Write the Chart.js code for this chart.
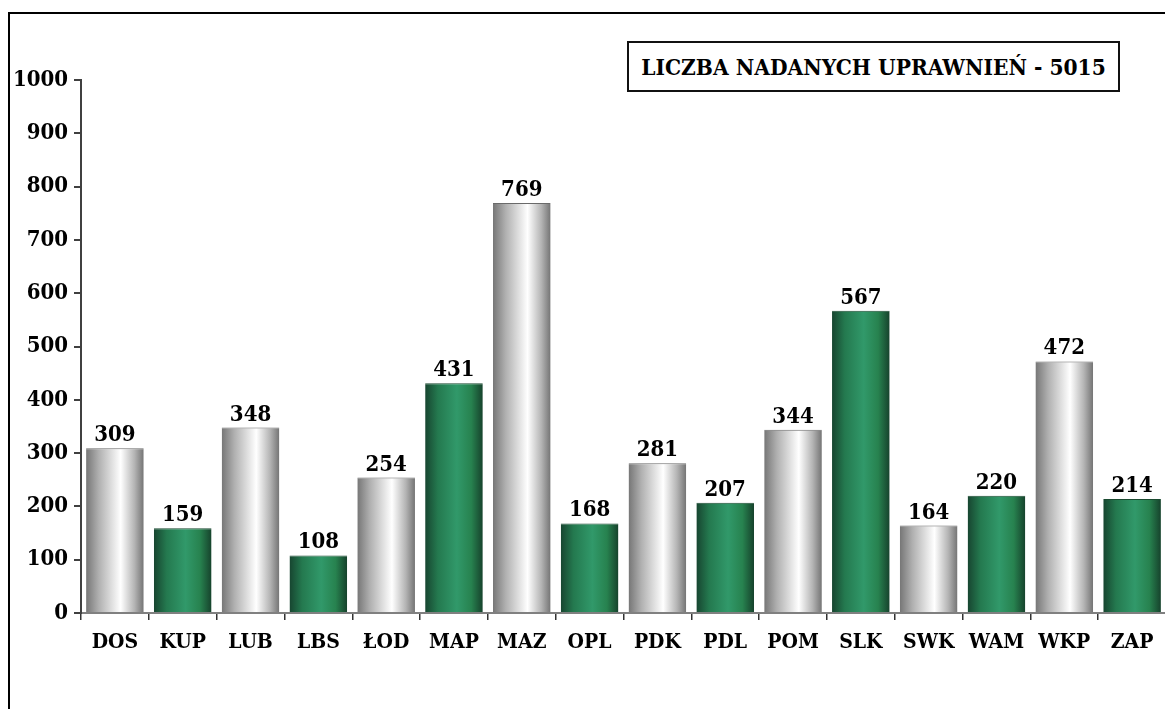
<!DOCTYPE html>
<html>

<head>
    <title>Liczba nadanych uprawnień</title>
    <script src="https://cdn.jsdelivr.net/npm/chart.js"></script>
    <style>
        html,
        body {
            margin: 0;
            padding: 0;
            background: #fff;
            overflow: hidden;
        }

        #frame {
            position: absolute;
            left: 8px;
            top: 12px;
            width: 1200px;
            height: 760px;
            border: 2px solid #000;
        }

        #wrap {
            position: absolute;
            left: 0;
            top: 0;
            width: 1166px;
            height: 709px;
        }

        #titleBox {
            position: absolute;
            left: 627px;
            top: 41px;
            width: 489px;
            height: 47px;
            border: 2px solid #111;
            background: #fff;
            font-family: 'DejaVu Serif Condensed', 'DejaVu Serif', serif;
            font-weight: bold;
            font-size: 22.5px;
            line-height: 48px;
            text-align: center;
            color: #000;
        }
    </style>
</head>

<body>
    <div id="frame"></div>
    <div id="wrap">
        <canvas id="myChart" width="1166" height="709"></canvas>
    </div>
    <div id="titleBox">LICZBA NADANYCH UPRAWNIEŃ - 5015</div>

    <script>
        // data
        const categories = ['DOS', 'KUP', 'LUB', 'LBS', 'ŁOD', 'MAP', 'MAZ', 'OPL', 'PDK', 'PDL', 'POM', 'SLK', 'SWK', 'WAM', 'WKP', 'ZAP'];
        const values = [309, 159, 348, 108, 254, 431, 769, 168, 281, 207, 344, 567, 164, 220, 472, 214];
        const yTicks = [0, 100, 200, 300, 400, 500, 600, 700, 800, 900, 1000];

        const barPct = 0.85;
        const font = "'DejaVu Serif Condensed', 'DejaVu Serif', serif";

        // cylinder-like horizontal gradient for each bar
        function barFill(c) {
            const chart = c.chart;
            const green = c.dataIndex % 2 === 1;
            const xs = chart.scales.x;
            if (!chart.chartArea || !xs) return green ? '#2a8a5c' : '#d0d0d0';
            const cx = xs.getPixelForValue(c.dataIndex);
            const w = xs.width / categories.length * barPct;
            const g = chart.ctx.createLinearGradient(cx - w / 2, 0, cx + w / 2, 0);
            if (green) {
                g.addColorStop(0, '#174530');
                g.addColorStop(0.22, '#24794f');
                g.addColorStop(0.55, '#31996a');
                g.addColorStop(0.8, '#27824f');
                g.addColorStop(1, '#16422c');
            } else {
                g.addColorStop(0, '#767676');
                g.addColorStop(0.22, '#b0b0b0');
                g.addColorStop(0.6, '#ffffff');
                g.addColorStop(0.84, '#b4b4b4');
                g.addColorStop(1, '#747474');
            }
            return g;
        }

        const valueLabels = {
            id: 'valueLabels',
            afterDatasetsDraw(chart) {
                const ctx = chart.ctx;
                const meta = chart.getDatasetMeta(0);
                ctx.save();
                ctx.font = "bold 22px " + font;
                ctx.fillStyle = '#000';
                ctx.textAlign = 'center';
                ctx.textBaseline = 'alphabetic';
                meta.data.forEach((bar, i) => {
                    ctx.fillText(values[i], bar.x, bar.y - 7);
                });
                ctx.restore();
            }
        };

        const ctx = document.getElementById('myChart').getContext('2d');

        const myChart = new Chart(ctx, {
            type: 'bar',
            data: {
                labels: categories,
                datasets: [{
                    data: values,
                    backgroundColor: barFill,
                    borderColor: (c) => c.dataIndex % 2 === 1 ? '#1a4a30' : '#6a6a6a',
                    borderWidth: { top: 1, left: 0, right: 0, bottom: 0 },
                    borderSkipped: 'start',
                    categoryPercentage: 1,
                    barPercentage: barPct
                }]
            },
            plugins: [valueLabels],
            options: {
                responsive: false,
                animation: false,
                layout: {
                    padding: { top: 80, left: 0, right: 0, bottom: 0 }
                },
                plugins: {
                    legend: { display: false },
                    tooltip: { enabled: false }
                },
                scales: {
                    x: {
                        offset: true,
                        afterFit(scale) { scale.height = 709 - 613; },
                        border: { display: true, color: '#808080', width: 2 },
                        grid: {
                            offset: true,
                            drawOnChartArea: false,
                            drawTicks: true,
                            tickLength: 7,
                            color: '#333',
                            lineWidth: 1.5
                        },
                        ticks: {
                            color: '#000',
                            padding: 10,
                            maxRotation: 0,
                            autoSkip: false,
                            font: { family: font, weight: 'bold', size: 21 }
                        }
                    },
                    y: {
                        min: 0,
                        max: 1000,
                        afterFit(scale) { scale.width = 81; },
                        afterBuildTicks(scale) { scale.ticks = yTicks.map(v => ({ value: v })); },
                        border: { display: true, color: '#404040', width: 2 },
                        grid: {
                            drawOnChartArea: false,
                            drawTicks: true,
                            tickLength: 7,
                            color: '#404040',
                            lineWidth: 2
                        },
                        ticks: {
                            color: '#000',
                            padding: 6,
                            callback: (v) => String(v),
                            font: { family: font, weight: 'bold', size: 22 }
                        }
                    }
                }
            }
        });
    </script>
</body>

</html>
